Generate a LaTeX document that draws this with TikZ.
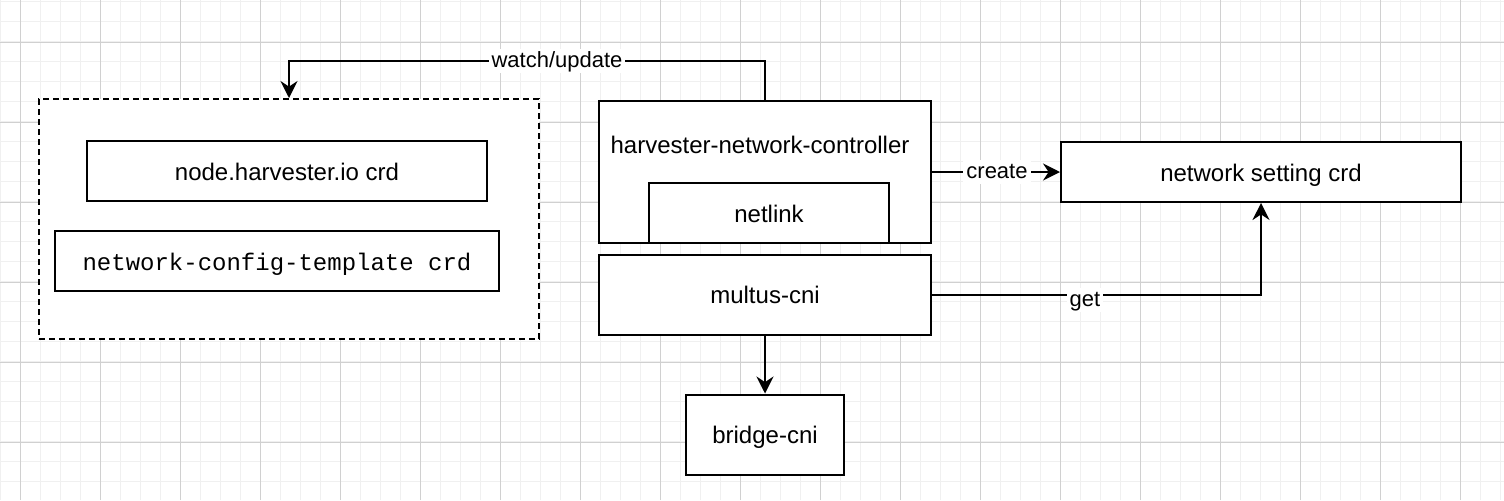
\documentclass[tikz,border=0pt]{standalone}
\usepackage{fontspec}
\setmainfont{Liberation Sans}
\newfontfamily\mymono{Liberation Mono}
\usetikzlibrary{arrows.meta}
\definecolor{minorgrid}{HTML}{F0F0F0}
\definecolor{majorgrid}{HTML}{D0D0D0}
\begin{document}
\begin{tikzpicture}[x=0.5pt,y=-0.5pt,
  box/.style={draw,line width=1pt,fill=white,inner sep=0pt,
    font=\fontsize{12}{14}\selectfont,text height=10pt,text depth=1pt},
  dashbox/.style={box,dash pattern=on 3pt off 2pt},
  lbl/.style={fill=white,inner xsep=1.5pt,inner ysep=1pt,
    font=\fontsize{11}{13}\selectfont,text height=8pt,text depth=2pt},
  conn/.style={line width=1pt},
  arr/.style={line width=1pt,-{Stealth[length=8.5pt,width=8.5pt,inset=2.8pt]}}]
\useasboundingbox (0,0) rectangle (1504,500);
\fill[white] (0,0) rectangle (1504,500);
% grid
\foreach \i in {0,...,75} \draw[minorgrid,line width=0.6pt] (\i*20+0.7,0) -- (\i*20+0.7,500);
\foreach \i in {0,...,25} \draw[minorgrid,line width=0.6pt] (0,\i*20+1.7) -- (1504,\i*20+1.7);
\foreach \i in {0,...,18} \draw[majorgrid,line width=0.5pt] (\i*80+20.7,0) -- (\i*80+20.7,500);
\foreach \i in {0,...,5} \draw[majorgrid,line width=0.5pt] (0,\i*80+42) -- (1504,\i*80+42);

% left container
\node[dashbox,minimum width=250pt,minimum height=120pt] (cont) at (289,219) {};
\node[box,minimum width=200pt,minimum height=30pt] (nodecrd) at (287,171) {node.harvester.io crd};
\node[box,minimum width=222pt,minimum height=30pt,font=\mymono\fontsize{12}{14}\selectfont] (ncfg) at (277,261) {network-config-template crd};

% controller
\node[box,minimum width=166pt,minimum height=71pt] (hnc) at (765,172) {};
\node[font=\fontsize{12}{14}\selectfont,inner sep=0pt,text height=10pt,text depth=1pt] (hnclabel) at (760,144) {harvester-network-controller};
\node[box,minimum width=120pt,minimum height=30pt] (netlink) at (769,213) {netlink};

% others
\node[box,minimum width=200pt,minimum height=30pt] (nsc) at (1261,172) {network setting crd};
\node[box,minimum width=166pt,minimum height=40pt] (multus) at (765,294.5) {multus-cni};
\node[box,minimum width=79pt,minimum height=40pt] (bridge) at (765,434.5) {bridge-cni};

% connectors
\coordinate (w1) at (289,61);
\draw[arr] (hnc.north) |- (w1) -- (cont.north);
\node[lbl] (lw) at (557,61) {watch/update};

\draw[arr] (hnc.east) -- (nsc.west);
\node[lbl] (lc) at (997,172) {create};

\draw[arr] (multus.east) -| (nsc.south);
\node[lbl] (lg) at (1085,300) {get};

\draw[arr] (multus.south) -- (bridge.north);
\end{tikzpicture}
\end{document}
